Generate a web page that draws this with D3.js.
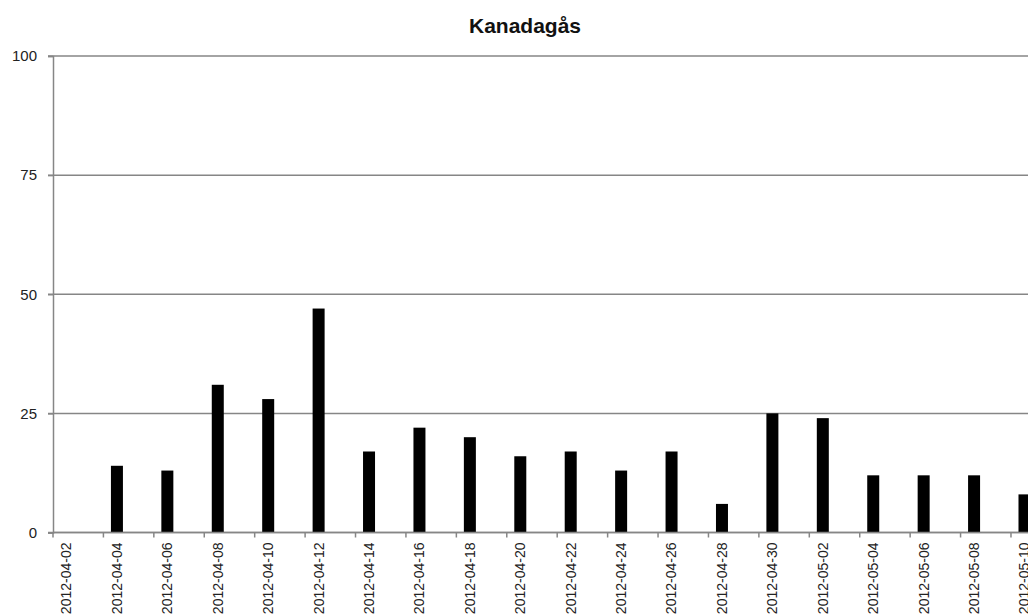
<!DOCTYPE html>
<html>
<head>
<meta charset="utf-8">
<script src="https://cdn.jsdelivr.net/npm/d3@7"></script>
<style>
  body { margin: 0; background: #fff; }
  svg { display: block; }
</style>
</head>
<body>
<div id="chart"></div>
<script>
var dates = ["2012-04-02", "2012-04-04", "2012-04-06", "2012-04-08", "2012-04-10",
             "2012-04-12", "2012-04-14", "2012-04-16", "2012-04-18", "2012-04-20",
             "2012-04-22", "2012-04-24", "2012-04-26", "2012-04-28", "2012-04-30",
             "2012-05-02", "2012-05-04", "2012-05-06", "2012-05-08", "2012-05-10"];
var counts = [0, 14, 13, 31, 28, 47, 17, 22, 20, 16, 17, 13, 17, 6, 25, 24, 12, 12, 12, 8];
var yTicks = [0, 25, 50, 75, 100];
var title = "Kanadagås";

var width = 1028,
    height = 615;
var margin = {top: 56, left: 53, bottom: 83};
var step = 50.42;

var svg = d3.select("#chart").append("svg")
    .attr("width", width)
    .attr("height", height);

var x = d3.scaleBand()
    .domain(dates)
    .range([margin.left, margin.left + step * dates.length])
    .padding(0);

var y = d3.scaleLinear()
    .domain([0, 100])
    .range([height - margin.bottom + 0.5, margin.top]);

var gridColor = "#868686";
var bw = x.bandwidth();

// gridlines
svg.append("g")
  .selectAll("line")
  .data(yTicks)
  .enter().append("line")
    .attr("x1", margin.left - 5)
    .attr("x2", width)
    .attr("y1", function(d){ return y(d); })
    .attr("y2", function(d){ return y(d); })
    .attr("stroke", gridColor)
    .attr("stroke-width", 1.5);

// y axis
var yAxis = svg.append("g")
    .attr("transform", "translate(" + margin.left + ",0)")
    .call(d3.axisLeft(y).tickValues(yTicks).tickSize(5).tickPadding(11));
yAxis.select(".domain").attr("stroke", gridColor).attr("stroke-width", 1.5);
yAxis.selectAll(".tick line").attr("stroke", gridColor).attr("stroke-width", 1.5);
yAxis.selectAll(".tick text")
    .attr("font-family", "'Liberation Sans', Arial, sans-serif")
    .attr("font-size", "15px")
    .attr("fill", "#222");

// bars
svg.append("g")
  .selectAll("rect")
  .data(dates)
  .enter().append("rect")
    .attr("x", function(d){ return x(d) + bw * 0.149; })
    .attr("y", function(d, i){ return y(counts[i]); })
    .attr("width", bw * 0.238)
    .attr("height", function(d, i){ return y(0) - y(counts[i]); })
    .attr("fill", "#000");

// x axis
var xg = svg.append("g");
xg.append("line")
    .attr("x1", margin.left)
    .attr("x2", width)
    .attr("y1", y(0))
    .attr("y2", y(0))
    .attr("stroke", gridColor)
    .attr("stroke-width", 1.5);
xg.selectAll("line.tick")
  .data(dates)
  .enter().append("line")
    .attr("class", "tick")
    .attr("x1", function(d){ return x(d); })
    .attr("x2", function(d){ return x(d); })
    .attr("y1", y(0))
    .attr("y2", y(0) + 5)
    .attr("stroke", gridColor)
    .attr("stroke-width", 1.5);
xg.selectAll("text")
  .data(dates)
  .enter().append("text")
    .attr("transform", function(d){
      return "translate(" + (x(d) + bw * 0.268) + "," + (y(0) + 10) + ") rotate(-90)";
    })
    .attr("text-anchor", "end")
    .attr("dy", "0.35em")
    .attr("font-family", "'Liberation Sans', Arial, sans-serif")
    .attr("font-size", "14px")
    .attr("fill", "#222")
    .text(function(d){ return d; });

// title
svg.append("text")
    .attr("x", 525)
    .attr("y", 33)
    .attr("text-anchor", "middle")
    .attr("font-family", "'Liberation Sans', Arial, sans-serif")
    .attr("font-size", "21px")
    .attr("font-weight", "bold")
    .attr("fill", "#111")
    .text(title);
</script>
</body>
</html>
